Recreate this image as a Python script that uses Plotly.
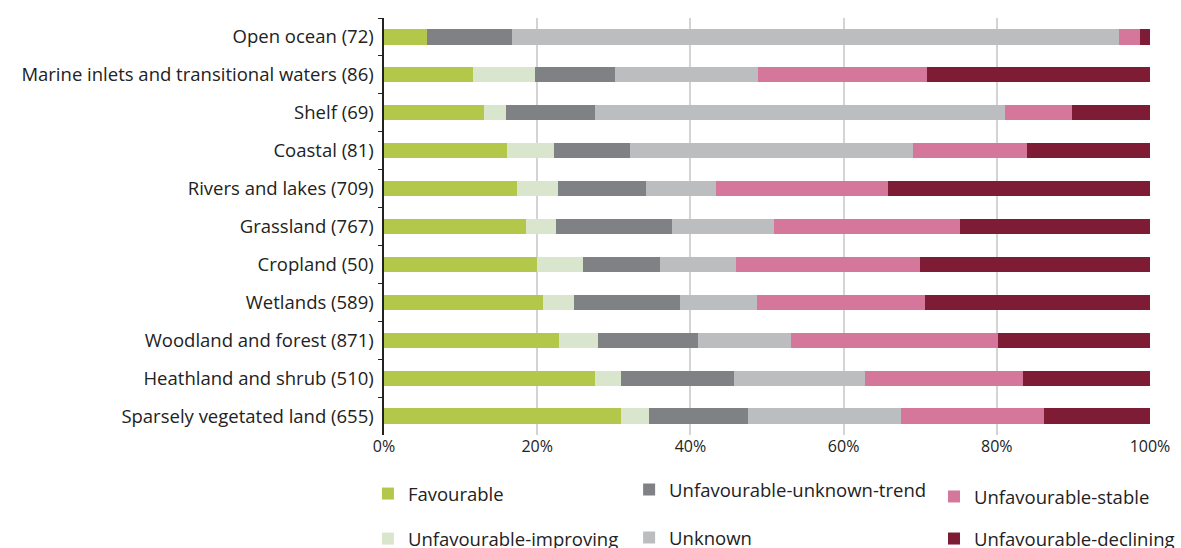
import plotly.graph_objects as go

categories = [
    "Open ocean (72)",
    "Marine inlets and transitional waters (86)",
    "Shelf (69)",
    "Coastal (81)",
    "Rivers and lakes (709)",
    "Grassland (767)",
    "Cropland (50)",
    "Wetlands (589)",
    "Woodland and forest (871)",
    "Heathland and shrub (510)",
    "Sparsely vegetated land (655)",
]

favourable = [5.6, 11.6, 13.0, 16.0, 17.3, 18.5, 20.0, 20.8, 22.9, 27.6, 31.0]
unfav_improving = [0.0, 8.1, 2.9, 6.2, 5.4, 3.9, 6.0, 4.0, 5.0, 3.4, 3.6]
unfav_unknown_trend = [11.1, 10.5, 11.6, 9.9, 11.5, 15.2, 10.0, 13.9, 13.1, 14.7, 12.9]
unknown = [79.2, 18.6, 53.6, 37.0, 9.1, 13.3, 10.0, 10.0, 12.1, 17.1, 20.0]
unfav_stable = [2.8, 22.1, 8.7, 14.8, 22.5, 24.3, 24.0, 21.9, 27.1, 20.6, 18.7]
unfav_declining = [1.3, 29.1, 10.2, 16.1, 34.2, 24.8, 30.0, 29.4, 19.8, 16.6, 13.8]

series = [
    ("Favourable", favourable, "#b3c84b", "legend", 0),
    ("Unfavourable-improving", unfav_improving, "#d9e5cc", "legend", 1),
    ("Unfavourable-unknown-trend", unfav_unknown_trend, "#808184", "legend2", 0),
    ("Unknown", unknown, "#bcbdbf", "legend2", 1),
    ("Unfavourable-stable", unfav_stable, "#d4779b", "legend3", 0),
    ("Unfavourable-declining", unfav_declining, "#7f1c35", "legend3", 1),
]

fig = go.Figure()
for name, vals, color, leg, rank in series:
    fig.add_trace(go.Bar(
        y=categories, x=vals, name=name, orientation="h",
        marker=dict(color=color, line=dict(width=0)),
        legend=leg, legendgroup=name, legendrank=rank,
        hovertemplate="%{y}<br>" + name + ": %{x:.1f}%<extra></extra>",
    ))

font_family = "Open Sans, sans-serif"
leg_common = dict(
    orientation="v", xanchor="left", yanchor="top",
    font=dict(family=font_family, size=18.5, color="#222"),
    bgcolor="rgba(0,0,0,0)", traceorder="grouped",
)

fig.update_layout(
    width=1181, height=548,
    barmode="stack", bargap=0.6,
    margin=dict(l=384, r=31, t=18, b=113, autoexpand=False),
    paper_bgcolor="white", plot_bgcolor="white",
    font=dict(family=font_family, size=18.5, color="#222"),
    xaxis=dict(
        range=[0, 100], tickvals=[0, 20, 40, 60, 80, 100],
        ticktext=["0%", "20%", "40%", "60%", "80%", "100%"],
        showgrid=True, gridcolor="#d4d4d4", gridwidth=1.5,
        zeroline=False, showline=False, ticks="",
        tickfont=dict(size=16, color="#222"),
    ),
    yaxis=dict(
        categoryorder="array", categoryarray=categories, autorange="reversed",
        showline=True, linecolor="#222", linewidth=1.5,
        ticks="outside", ticklen=4, tickcolor="#222", tickson="boundaries",
        tickfont=dict(size=18.5, color="#222"), ticksuffix=" ",
    ),
    legend=dict(x=-0.021, y=-0.096, tracegroupgap=18, **leg_common),
    legend2=dict(x=0.320, y=-0.086, tracegroupgap=21, **leg_common),
    legend3=dict(x=0.718, y=-0.103, tracegroupgap=15, **leg_common),
)

fig.write_html(
    "out.html",
    config={"displayModeBar": False},
    post_script="document.body.style.margin='0';document.body.style.overflow='hidden';",
)
